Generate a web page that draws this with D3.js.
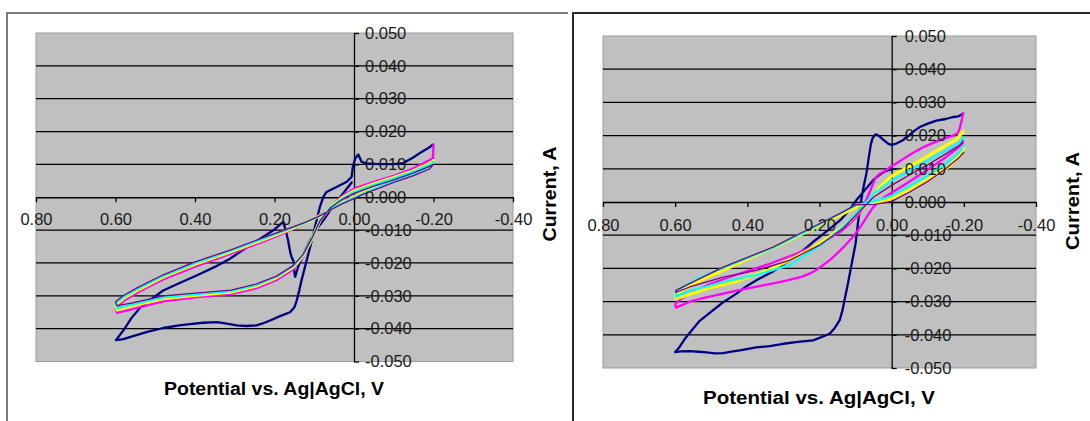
<!DOCTYPE html>
<html>
<head>
<meta charset="utf-8">
<script src="https://cdn.jsdelivr.net/npm/d3@7"></script>
<style>
  html, body { margin: 0; padding: 0; background: #fff; }
  svg { display: block; }
  text { font-family: "Liberation Sans", Arial, sans-serif; }
</style>
</head>
<body>
<svg id="chart" width="1090" height="421"></svg>
<script>
// ---- Axis ticks and labels ----
const xTicks = [0.8, 0.6, 0.4, 0.2, 0, -0.2, -0.4];
const xTickLabels = ["0.80", "0.60", "0.40", "0.20", "0.00", "-0.20", "-0.40"];
const yTicks = [0.05, 0.04, 0.03, 0.02, 0.01, 0, -0.01, -0.02, -0.03, -0.04, -0.05];
const yTickLabels = ["0.050", "0.040", "0.030", "0.020", "0.010", "0.000",
                     "-0.010", "-0.020", "-0.030", "-0.040", "-0.050"];
const gridValues = [0.04, 0.03, 0.02, 0.01, -0.01, -0.02, -0.03, -0.04];
const xTitle = "Potential vs. Ag|AgCl, V";
const yTitle = "Current, A";
const cycleColors = ["#000080", "#ff00ff", "#ffff00", "#00ffff", "#800080"];

// ---- Left voltammogram: [potential V, current A] per cycle ----
const leftCycle1 = [
  [0.006,0.0045],[0.027,0.0012],[0.045,-0.0015],[0.060,-0.0040],[0.077,-0.0070],[0.095,-0.0098],
  [0.112,-0.0135],[0.128,-0.0175],[0.140,-0.0210],[0.148,-0.0242],[0.150,-0.0228],[0.152,-0.0195],
  [0.156,-0.0185],[0.160,-0.0170],[0.166,-0.0130],[0.172,-0.0100],[0.178,-0.0075],[0.200,-0.0098],
  [0.230,-0.0122],[0.260,-0.0145],[0.312,-0.0187],[0.350,-0.0212],[0.396,-0.0238],[0.440,-0.0262],
  [0.480,-0.0284],[0.510,-0.0310],[0.538,-0.0336],[0.560,-0.0368],[0.580,-0.0405],[0.599,-0.0435],
  [0.580,-0.0432],[0.564,-0.0426],[0.520,-0.0410],[0.480,-0.0398],[0.440,-0.0390],[0.413,-0.0386],
  [0.380,-0.0382],[0.345,-0.0380],[0.320,-0.0385],[0.295,-0.0390],[0.270,-0.0392],[0.245,-0.0390],
  [0.225,-0.0382],[0.211,-0.0375],[0.186,-0.0362],[0.161,-0.0350],[0.150,-0.0335],[0.144,-0.0314],
  [0.138,-0.0285],[0.132,-0.0253],[0.119,-0.0192],[0.106,-0.0131],[0.094,-0.0070],[0.086,-0.0030],
  [0.077,0.0001],[0.069,0.0016],[0.044,0.0031],[0.018,0.0047],[0.006,0.0062],[0.003,0.0092],
  [-0.003,0.0118],[-0.011,0.0130],[-0.019,0.0108],[-0.032,0.0103],[-0.065,0.0101],[-0.099,0.0101],
  [-0.124,0.0104],[-0.149,0.0121],[-0.170,0.0138],[-0.191,0.0153],[-0.198,0.0160]
];
const leftCycle2 = [
  [-0.200,0.0160],[-0.199,0.0130],[-0.197,0.0108],[-0.190,0.0098],[-0.150,0.0078],[-0.100,0.0056],
  [-0.050,0.0033],[-0.020,0.0016],[0.000,0.0004],[0.030,-0.0015],[0.060,-0.0035],[0.090,-0.0057],
  [0.120,-0.0078],[0.170,-0.0106],[0.230,-0.0136],[0.310,-0.0172],[0.400,-0.0211],[0.480,-0.0250],
  [0.540,-0.0287],[0.580,-0.0316],[0.600,-0.0338],[0.596,-0.0352],[0.560,-0.0341],[0.480,-0.0317],
  [0.400,-0.0305],[0.310,-0.0295],[0.245,-0.0277],[0.195,-0.0252],[0.153,-0.0220],[0.128,-0.0182],
  [0.106,-0.0130],[0.086,-0.0074],[0.060,-0.0029],[0.030,0.0003],[0.000,0.0026],[-0.050,0.0047],
  [-0.100,0.0065],[-0.150,0.0088],[-0.190,0.0113],[-0.200,0.0120]
];
const leftCycle3 = [
  [-0.200,0.0112],[-0.190,0.0095],[-0.150,0.0074],[-0.100,0.0052],[-0.050,0.0029],[-0.020,0.0013],
  [0.000,0.0001],[0.030,-0.0017],[0.060,-0.0037],[0.090,-0.0059],[0.120,-0.0077],[0.170,-0.0102],
  [0.230,-0.0130],[0.310,-0.0166],[0.400,-0.0204],[0.480,-0.0243],[0.540,-0.0280],[0.580,-0.0308],
  [0.600,-0.0328],[0.596,-0.0343],[0.560,-0.0331],[0.480,-0.0309],[0.400,-0.0299],[0.310,-0.0289],
  [0.245,-0.0270],[0.195,-0.0245],[0.153,-0.0213],[0.128,-0.0177],[0.106,-0.0127],[0.086,-0.0072],
  [0.060,-0.0030],[0.030,-0.0002],[0.000,0.0019],[-0.050,0.0041],[-0.100,0.0060],[-0.150,0.0081],
  [-0.190,0.0103],[-0.200,0.0110]
];
const leftCycle4 = [
  [-0.200,0.0108],[-0.190,0.0092],[-0.150,0.0071],[-0.100,0.0049],[-0.050,0.0026],[-0.020,0.0010],
  [0.000,-0.0001],[0.030,-0.0018],[0.060,-0.0038],[0.090,-0.0059],[0.120,-0.0076],[0.170,-0.0100],
  [0.230,-0.0127],[0.310,-0.0163],[0.400,-0.0201],[0.480,-0.0240],[0.540,-0.0276],[0.580,-0.0304],
  [0.600,-0.0324],[0.596,-0.0338],[0.560,-0.0327],[0.480,-0.0305],[0.400,-0.0296],[0.310,-0.0286],
  [0.245,-0.0267],[0.195,-0.0242],[0.153,-0.0210],[0.128,-0.0175],[0.106,-0.0126],[0.086,-0.0072],
  [0.060,-0.0031],[0.030,-0.0004],[0.000,0.0016],[-0.050,0.0038],[-0.100,0.0057],[-0.150,0.0078],
  [-0.190,0.0099],[-0.200,0.0106]
];
const leftCycle5 = [
  [-0.200,0.0100],[-0.190,0.0086],[-0.150,0.0066],[-0.100,0.0045],[-0.050,0.0022],[-0.020,0.0007],
  [0.000,-0.0004],[0.030,-0.0020],[0.060,-0.0039],[0.090,-0.0059],[0.120,-0.0075],[0.170,-0.0098],
  [0.230,-0.0124],[0.310,-0.0160],[0.400,-0.0197],[0.480,-0.0236],[0.540,-0.0272],[0.580,-0.0299],
  [0.600,-0.0318],[0.596,-0.0330],[0.560,-0.0322],[0.480,-0.0300],[0.400,-0.0292],[0.310,-0.0283],
  [0.245,-0.0264],[0.195,-0.0240],[0.153,-0.0208],[0.128,-0.0174],[0.106,-0.0125],[0.086,-0.0073],
  [0.060,-0.0033],[0.030,-0.0007],[0.000,0.0012],[-0.050,0.0034],[-0.100,0.0053],[-0.150,0.0074],
  [-0.190,0.0094],[-0.200,0.0100]
];

// ---- Right voltammogram: [potential V, current A] per cycle ----
const rightCycle1 = [
  [0.001,0.0098],[0.015,0.0094],[0.030,0.0085],[0.052,0.0065],[0.075,0.0035],[0.098,0.0005],
  [0.120,-0.0028],[0.140,-0.0052],[0.165,-0.0075],[0.190,-0.0097],[0.220,-0.0122],[0.250,-0.0150],
  [0.290,-0.0180],[0.330,-0.0210],[0.370,-0.0233],[0.400,-0.0252],[0.430,-0.0276],[0.467,-0.0302],
  [0.500,-0.0330],[0.532,-0.0358],[0.555,-0.0388],[0.575,-0.0415],[0.590,-0.0440],[0.600,-0.0452],
  [0.585,-0.0450],[0.560,-0.0449],[0.535,-0.0451],[0.513,-0.0453],[0.490,-0.0456],[0.467,-0.0455],
  [0.440,-0.0450],[0.421,-0.0447],[0.375,-0.0438],[0.338,-0.0434],[0.300,-0.0427],[0.260,-0.0421],
  [0.218,-0.0417],[0.190,-0.0405],[0.172,-0.0397],[0.158,-0.0380],[0.144,-0.0356],[0.136,-0.0325],
  [0.130,-0.0292],[0.122,-0.0250],[0.116,-0.0216],[0.108,-0.0170],[0.100,-0.0125],[0.093,-0.0060],
  [0.086,-0.0005],[0.078,0.0045],[0.070,0.0086],[0.064,0.0130],[0.058,0.0172],[0.053,0.0192],
  [0.046,0.0203],[0.040,0.0203],[0.030,0.0194],[0.020,0.0185],[0.010,0.0176],[0.001,0.0172],
  [-0.013,0.0176],[-0.031,0.0186],[-0.045,0.0198],[-0.060,0.0212],[-0.078,0.0226],[-0.100,0.0236],
  [-0.124,0.0245],[-0.150,0.0250],[-0.170,0.0256],[-0.185,0.0258],[-0.198,0.0266]
];
const rightCycle2 = [
  [-0.198,0.0268],[-0.194,0.0245],[-0.188,0.0220],[-0.182,0.0206],[-0.165,0.0198],[-0.142,0.0190],
  [-0.115,0.0178],[-0.087,0.0165],[-0.060,0.0148],[-0.041,0.0136],[-0.018,0.0120],[0.006,0.0104],
  [0.020,0.0092],[0.033,0.0086],[0.045,0.0072],[0.061,0.0030],[0.075,-0.0005],[0.089,-0.0035],
  [0.115,-0.0065],[0.140,-0.0088],[0.170,-0.0108],[0.200,-0.0125],[0.270,-0.0158],[0.338,-0.0186],
  [0.400,-0.0208],[0.449,-0.0226],[0.500,-0.0246],[0.550,-0.0270],[0.585,-0.0292],[0.600,-0.0308],
  [0.598,-0.0318],[0.580,-0.0310],[0.560,-0.0300],[0.520,-0.0289],[0.476,-0.0278],[0.430,-0.0267],
  [0.384,-0.0257],[0.338,-0.0247],[0.292,-0.0237],[0.246,-0.0224],[0.220,-0.0212],[0.200,-0.0198],
  [0.175,-0.0178],[0.153,-0.0157],[0.130,-0.0132],[0.107,-0.0105],[0.090,-0.0080],[0.079,-0.0062],
  [0.065,-0.0038],[0.052,-0.0017],[0.035,0.0002],[0.020,0.0015],[0.000,0.0028],[-0.030,0.0048],
  [-0.070,0.0076],[-0.110,0.0105],[-0.150,0.0135],[-0.180,0.0160],[-0.198,0.0178]
];
const rightCycle3 = [
  [-0.200,0.0160],[-0.188,0.0142],[-0.161,0.0108],[-0.120,0.0082],[-0.087,0.0060],[-0.040,0.0032],
  [0.006,0.0008],[0.050,-0.0005],[0.090,-0.0012],[0.116,-0.0025],[0.190,-0.0065],[0.283,-0.0115],
  [0.375,-0.0160],[0.467,-0.0206],[0.540,-0.0240],[0.598,-0.0276],
  [0.598,-0.0291],[0.513,-0.0261],[0.421,-0.0236],[0.329,-0.0200],[0.236,-0.0148],[0.172,-0.0105],
  [0.116,-0.0058],[0.070,-0.0005],[0.033,0.0045],[0.000,0.0078],[-0.050,0.0108],[-0.087,0.0130],
  [-0.130,0.0158],[-0.179,0.0188],[-0.198,0.0212]
];
const rightCycle4 = [
  [-0.200,0.0170],[-0.188,0.0150],[-0.150,0.0115],[-0.100,0.0080],[-0.050,0.0048],[0.000,0.0018],
  [0.050,0.0002],[0.100,-0.0010],[0.144,-0.0035],[0.236,-0.0088],[0.329,-0.0138],[0.467,-0.0198],
  [0.540,-0.0232],[0.598,-0.0268],
  [0.598,-0.0285],[0.560,-0.0268],[0.467,-0.0241],[0.375,-0.0220],[0.283,-0.0190],[0.190,-0.0125],
  [0.135,-0.0075],[0.090,-0.0025],[0.050,0.0025],[0.000,0.0065],[-0.050,0.0095],[-0.100,0.0125],
  [-0.150,0.0155],[-0.188,0.0180],[-0.198,0.0195]
];
const rightCycle5 = [
  [-0.200,0.0150],[-0.188,0.0135],[-0.150,0.0100],[-0.100,0.0062],[-0.050,0.0030],[0.000,0.0002],
  [0.050,-0.0008],[0.098,-0.0008],[0.144,-0.0035],[0.236,-0.0085],[0.329,-0.0136],[0.467,-0.0196],
  [0.598,-0.0266],
  [0.598,-0.0272],[0.560,-0.0256],[0.467,-0.0226],[0.375,-0.0206],[0.283,-0.0176],[0.200,-0.0130],
  [0.135,-0.0080],[0.090,-0.0030],[0.050,0.0015],[0.000,0.0050],[-0.050,0.0082],[-0.100,0.0112],
  [-0.150,0.0145],[-0.190,0.0172],[-0.198,0.0185]
];

const cycleWidths = [2.3, 2.3, 3.2, 2.2, 1.3];

const panels = [
  {
    frame: "M7,421V13H568", frameColor: "#7d7d7d",
    plot: { x0: 36, x1: 513, y0: 33, y1: 361.5 },
    cycles: [leftCycle1, leftCycle2, leftCycle3, leftCycle4, leftCycle5],
    xLabelDrop: 27.5, yLabelPad: 6,
    xTitle: { x: 274, y: 395, len: 220, size: 18 },
    yTitle: { x: 555.5, y: 194, len: 95, size: 18.5 }
  },
  {
    frame: "M573,421V13H1090", frameColor: "#262626",
    plot: { x0: 603, x1: 1036, y0: 36, y1: 368 },
    cycles: [rightCycle1, rightCycle2, rightCycle3, rightCycle4, rightCycle5],
    xLabelDrop: 29, yLabelPad: 8,
    xTitle: { x: 819, y: 404, len: 232, size: 19 },
    yTitle: { x: 1079, y: 201, len: 98, size: 19 }
  }
];

const svg = d3.select("#chart");

function styleLines(sel) {
  sel.select(".domain").attr("stroke", "#000").attr("stroke-width", 1.3);
  sel.selectAll(".tick line").attr("stroke", "#000").attr("stroke-width", 1.3);
}
function styleLabels(sel) {
  sel.select(".domain").remove();
  sel.selectAll("text").attr("font-size", 16.5).attr("fill", "#1a1a1a")
    .attr("font-family", '"Liberation Sans", Arial, sans-serif');
}

panels.forEach(p => {
  const g = svg.append("g");

  // outer chart frame (top and left edges)
  g.append("path").attr("d", p.frame)
    .attr("fill", "none").attr("stroke", p.frameColor).attr("stroke-width", 2);

  const x = d3.scaleLinear().domain([0.8, -0.4]).range([p.plot.x0, p.plot.x1]);
  const y = d3.scaleLinear().domain([-0.05, 0.05]).range([p.plot.y1, p.plot.y0]);

  // plot area
  g.append("rect")
    .attr("x", p.plot.x0).attr("y", p.plot.y0)
    .attr("width", p.plot.x1 - p.plot.x0).attr("height", p.plot.y1 - p.plot.y0)
    .attr("fill", "#c0c0c0").attr("stroke", "#9c9c9c").attr("stroke-width", 1);

  // horizontal gridlines
  g.append("g").selectAll("line").data(gridValues).join("line")
    .attr("x1", p.plot.x0).attr("x2", p.plot.x1)
    .attr("y1", d => y(d)).attr("y2", d => y(d))
    .attr("stroke", "#000").attr("stroke-width", 1.3);

  // axis lines and tick marks, crossing at the origin
  g.append("g").attr("transform", `translate(0,${y(0)})`)
    .call(d3.axisBottom(x).tickValues(xTicks).tickFormat("").tickSize(5).tickSizeOuter(0))
    .call(styleLines);
  g.append("g").attr("transform", `translate(${x(0)},0)`)
    .call(d3.axisRight(y).tickValues(yTicks).tickFormat("").tickSize(5).tickSizeOuter(0))
    .call(styleLines);

  // voltammogram cycles
  const line = d3.line().x(d => x(d[0])).y(d => y(d[1]));
  g.append("g").selectAll("path").data(p.cycles).join("path")
    .attr("d", line)
    .attr("fill", "none")
    .attr("stroke", (d, i) => cycleColors[i])
    .attr("stroke-width", (d, i) => cycleWidths[i])
    .attr("stroke-linejoin", "round").attr("stroke-linecap", "round");

  // tick labels above the traces
  const xLab = g.append("g").attr("transform", `translate(0,${y(0)})`)
    .call(d3.axisBottom(x).tickValues(xTicks)
      .tickFormat((d, i) => xTickLabels[i]).tickSize(0).tickSizeOuter(0))
    .call(styleLabels);
  xLab.selectAll("text").attr("y", p.xLabelDrop).attr("dy", "0");
  g.append("g").attr("transform", `translate(${x(0)},0)`)
    .call(d3.axisRight(y).tickValues(yTicks)
      .tickFormat((d, i) => yTickLabels[i]).tickSize(0).tickSizeOuter(0).tickPadding(p.yLabelPad + 5))
    .call(styleLabels);

  // axis titles
  g.append("text")
    .attr("x", p.xTitle.x).attr("y", p.xTitle.y)
    .attr("text-anchor", "middle").attr("font-weight", "bold")
    .attr("font-size", p.xTitle.size).attr("fill", "#000")
    .attr("textLength", p.xTitle.len).attr("lengthAdjust", "spacingAndGlyphs")
    .text(xTitle);
  g.append("text")
    .attr("transform", `translate(${p.yTitle.x},${p.yTitle.y}) rotate(-90)`)
    .attr("text-anchor", "middle").attr("font-weight", "bold")
    .attr("font-size", p.yTitle.size).attr("fill", "#000")
    .attr("textLength", p.yTitle.len).attr("lengthAdjust", "spacingAndGlyphs")
    .text(yTitle);
});
</script>
</body>
</html>
